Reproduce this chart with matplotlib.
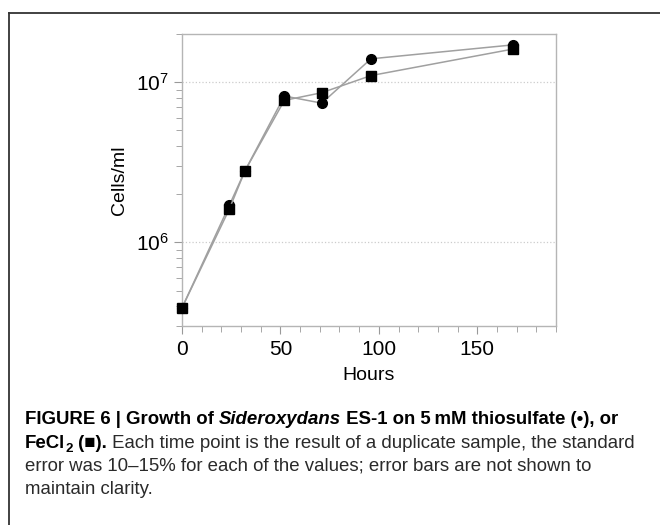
import numpy as np
import matplotlib
matplotlib.use("Agg")
import matplotlib.pyplot as plt
from matplotlib.ticker import LogLocator, MultipleLocator, NullFormatter, LogFormatterMathtext
from matplotlib.lines import Line2D

plt.rcParams['font.family'] = ['Liberation Sans', 'DejaVu Sans']
plt.rcParams['mathtext.fontset'] = 'custom'
plt.rcParams['mathtext.rm'] = 'Liberation Sans'

# data (cells/ml vs hours)
hours_thio = [0, 24, 32, 52, 71, 96, 168]
cells_thio = [3.9e5, 1.70e6, 2.8e6, 8.2e6, 7.4e6, 1.40e7, 1.71e7]
hours_fe = [0, 24, 32, 52, 71, 96, 168]
cells_fe = [3.9e5, 1.61e6, 2.8e6, 7.7e6, 8.6e6, 1.10e7, 1.61e7]

fig = plt.figure(figsize=(6.6, 5.25), dpi=100)
ax = fig.add_axes([0.2758, 0.379, 0.5666, 0.5562])

line_col = '#a0a0a0'
ax.plot(hours_thio, cells_thio, color=line_col, lw=1.1, marker='o', ms=7,
        mfc='black', mec='black', zorder=3, clip_on=False)
ax.plot(hours_fe, cells_fe, color=line_col, lw=1.1, marker='s', ms=6.5,
        mfc='black', mec='black', zorder=3, clip_on=False)

ax.set_yscale('log')
ax.set_xlim(0, 190)
ax.set_ylim(3.0e5, 2.0e7)

ax.xaxis.set_major_locator(MultipleLocator(50))
ax.xaxis.set_minor_locator(MultipleLocator(10))
ax.yaxis.set_major_locator(LogLocator(base=10))
ax.yaxis.set_major_formatter(LogFormatterMathtext())
ax.yaxis.set_minor_locator(LogLocator(base=10, subs=np.arange(2, 10)))
ax.yaxis.set_minor_formatter(NullFormatter())

for s in ax.spines.values():
    s.set_color('#b5b5b5')
    s.set_linewidth(1.0)
ax.tick_params(which='both', colors='#999999', labelcolor='black', direction='out')
ax.tick_params(which='major', length=6, labelsize=15)
ax.tick_params(which='minor', length=4)
ax.tick_params(axis='x', pad=4)
ax.grid(axis='y', which='major', linestyle=':', color='#cccccc', lw=0.9)

ax.set_xlabel('Hours', fontsize=14, labelpad=6)
ax.set_ylabel('Cells/ml', fontsize=14, labelpad=6)

# frame of the figure panel
fig.add_artist(Line2D([8.5 / 660, 8.5 / 660], [0, 1 - 12.5 / 525], color='#333333', lw=1.3))
fig.add_artist(Line2D([8.5 / 660, 1], [1 - 12.5 / 525, 1 - 12.5 / 525], color='#333333', lw=1.3))

# caption, built from chained pieces
fs = 13.4
x0 = 25 / 660
lines_y = [1 - y / 525 for y in (420, 443, 466, 489)]
txt_col = '#2a2a2a'


def chain(prev, s, **kw):
    return ax.annotate(s, xy=(1, 0), xycoords=prev, va='bottom', ha='left',
                       fontsize=fs, annotation_clip=False, **kw)


t = fig.text(x0, lines_y[0], 'FIGURE 6 | Growth of ', fontsize=fs, weight='bold', va='center')
t = chain(t, 'Sideroxydans', weight='bold', style='italic')
t = chain(t, ' ES-1 on 5\u2009mM thiosulfate (\u2022), or', weight='bold')

t = fig.text(x0, lines_y[1], 'FeCl', fontsize=fs, weight='bold', va='center')
t2 = ax.annotate('2', xy=(1, 0), xycoords=t, xytext=(0, -2.5), textcoords='offset points',
                 va='bottom', ha='left', fontsize=fs * 0.72, weight='bold', annotation_clip=False)
t = ax.annotate(' (\u25a0).', xy=(1, 0), xycoords=t2, xytext=(0, 2.5), textcoords='offset points',
                va='bottom', ha='left', fontsize=fs, weight='bold', annotation_clip=False)
t = chain(t, ' Each time point is the result of a duplicate sample, the standard', color=txt_col)

fig.text(x0, lines_y[2], 'error was 10\u201315% for each of the values; error bars are not shown to',
         fontsize=fs, va='center', color=txt_col)
fig.text(x0, lines_y[3], 'maintain clarity.', fontsize=fs, va='center', color=txt_col)

fig.savefig('out.png', dpi=100, facecolor='white')
